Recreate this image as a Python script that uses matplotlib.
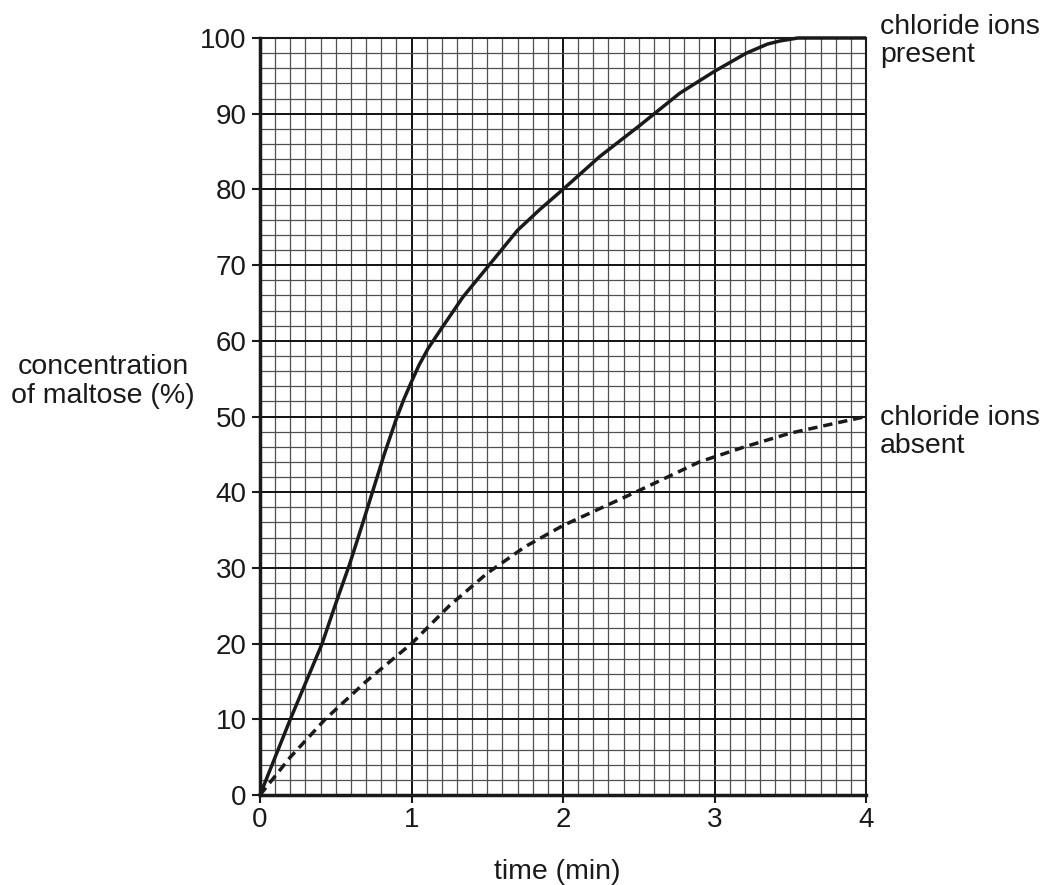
import matplotlib
matplotlib.use("Agg")
import matplotlib.pyplot as plt
from matplotlib.ticker import MultipleLocator

plt.rcParams['font.family'] = ['Liberation Sans', 'DejaVu Sans']

# Data
time_present = [0, 0.2, 0.41, 0.5, 0.59, 0.67, 0.745, 0.82, 0.9, 0.95, 1.0, 1.05, 1.11, 1.19, 1.34, 1.5, 1.7, 1.85, 2.0, 2.24, 2.51, 2.77, 3.0, 3.21, 3.35, 3.43, 3.55, 4.0]
conc_present = [0, 10, 20, 25.3, 30.4, 35.4, 40.2, 45, 49.7, 52.3, 54.6, 56.8, 59, 61.4, 65.8, 69.7, 74.6, 77.4, 80, 84.3, 88.5, 92.7, 95.6, 98, 99.2, 99.6, 100, 100]

time_absent = [0, 0.2, 0.43, 0.7, 1.0, 1.25, 1.5, 1.75, 2.0, 2.5, 2.9, 3.2, 3.5, 4.0]
conc_absent = [0, 5, 10, 15, 20, 25, 29.3, 32.8, 35.6, 40.2, 44, 46, 47.8, 50]

x_ticks = [0, 1, 2, 3, 4]
y_ticks = [0, 10, 20, 30, 40, 50, 60, 70, 80, 90, 100]

W, H = 1046, 885
fig = plt.figure(figsize=(W / 100, H / 100), dpi=100)
left, right, bottom, top = 260, 866, 795, 38
ax = fig.add_axes([left / W, 1 - bottom / H, (right - left) / W, (bottom - top) / H])

ax.set_xlim(0, 4)
ax.set_ylim(0, 100)
ax.xaxis.set_minor_locator(MultipleLocator(0.1))
ax.yaxis.set_minor_locator(MultipleLocator(2))
ax.set_xticks(x_ticks)
ax.set_yticks(y_ticks)

ax.grid(which='minor', color='#505050', linewidth=0.9)
ax.grid(which='major', color='#111111', linewidth=1.4)
ax.set_axisbelow(True)

tc = '#1a1a1a'
ax.tick_params(which='major', direction='out', length=5.5, width=1.5, labelsize=20, colors=tc)
ax.tick_params(axis='x', pad=3)
ax.tick_params(axis='y', pad=4)
ax.tick_params(which='minor', length=0)
for s in ax.spines.values():
    s.set_linewidth(1.5)
    s.set_color(tc)
ax.spines['left'].set_linewidth(2.5)
ax.spines['bottom'].set_linewidth(2.5)

ax.plot(time_present, conc_present, color=tc, linewidth=2.5, solid_capstyle='butt',
        solid_joinstyle='round', clip_on=False, zorder=5)
ax.plot(time_absent, conc_absent, color=tc, linewidth=2.5, dashes=(2.7, 1.7),
        dash_capstyle='butt', clip_on=False, zorder=5)

fs = 20.5
def label(x, y, s, ha='left'):
    fig.text(x / W, 1 - y / H, s, ha=ha, va='baseline', fontsize=fs, color=tc)

label(880, 34, "chloride ions")
label(880, 62, "present")
label(880, 425, "chloride ions")
label(880, 453, "absent")
label(103, 374, "concentration", ha='center')
label(103, 403, "of maltose (%)", ha='center')
label(557, 879, "time (min)", ha='center')

fig.savefig("out.png", dpi=100)
